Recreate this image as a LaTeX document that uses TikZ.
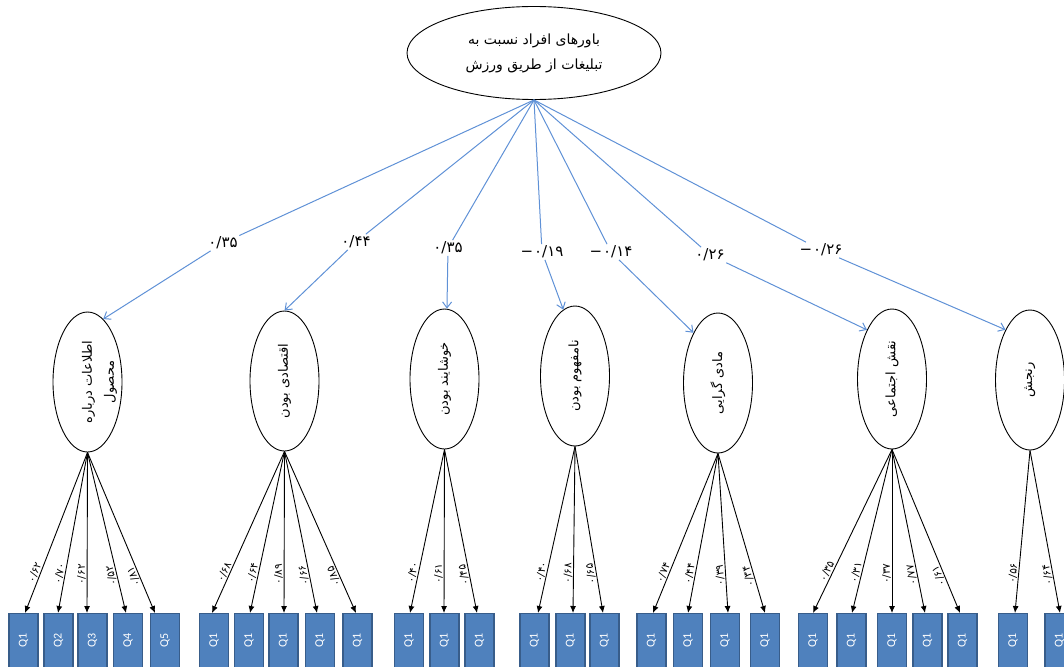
\documentclass[tikz,border=0pt]{standalone}
\usepackage{fontspec}
\usepackage{graphicx}
\setmainfont{Carlito}
\newfontfamily\fa[Script=Arabic]{DejaVu Sans}
\TeXXeTstate=1
\usetikzlibrary{arrows.meta,shapes.geometric}
\definecolor{lineblue}{RGB}{95,145,214}
\definecolor{boxfill}{RGB}{79,129,189}
\definecolor{boxedge}{RGB}{56,93,138}
\newcommand\dec[1]{۰/#1}
\newcommand\negdec[1]{\mbox{−}\hspace{1pt}\dec{#1}}
\begin{document}
\begin{tikzpicture}[x=1pt,y=-1pt,
  latent/.style={ellipse,draw,line width=0.9pt,minimum width=69pt,minimum height=140pt,inner sep=0pt,font=\fa\fontsize{13}{22}\selectfont},
  obs/.style={rectangle,draw=boxedge,fill=boxfill,line width=1.2pt,minimum width=29pt,minimum height=54pt,inner sep=0pt,anchor=north,text=white,font=\fontsize{12}{13}\selectfont},
  conn/.style={draw=lineblue,line width=1pt,-{Straight Barb[length=6pt,width=9pt]}},
  connplain/.style={draw=lineblue,line width=1pt},
  coef/.style={font=\fa\fontsize{15}{16}\selectfont,inner sep=1.5pt},
  load/.style={draw=black,line width=0.9pt,-{Latex[length=7pt,width=6pt]}},
  loadlbl/.style={font=\fa\fontsize{10.5}{11}\selectfont,inner sep=1pt}
]
\useasboundingbox (0,0) rectangle (1064,666);
\clip (0,0) rectangle (1064,666);

\node[ellipse,draw,line width=0.9pt,minimum width=254pt,minimum height=93pt,inner sep=0pt,align=center,font=\fa\fontsize{14}{25}\selectfont] (top) at (534,53) {\beginR باورهای افراد نسبت به\endR\\\beginR تبلیغات از طریق ورزش\endR};

\node[latent] (e1) at (87.5,382) {\makebox[0pt]{\hspace*{22pt}\rotatebox{90}{\begin{tabular}{@{}c@{}}\beginR اطلاعات درباره\endR\\\beginR محصول\endR\end{tabular}}}};
\node[latent] (e2) at (284.5,381) {\makebox[0pt]{\rotatebox{90}{\beginR اقتصادی بودن\endR}}};
\node[latent] (e3) at (444.5,379) {\makebox[0pt]{\rotatebox{90}{\beginR خوشایند بودن\endR}}};
\node[latent] (e4) at (575,376) {\makebox[0pt]{\rotatebox{90}{\beginR نامفهوم بودن\endR}}};
\node[latent] (e5) at (718,383) {\makebox[0pt]{\rotatebox{90}{\beginR مادی گرایی\endR}}};
\node[latent] (e6) at (892,379) {\makebox[0pt]{\rotatebox{90}{\beginR نقش اجتماعی\endR}}};
\node[latent] (e7) at (1030,380) {\makebox[0pt]{\rotatebox{90}{\beginR رنجش\endR}}};

\node[coef] (c1) at (223,243) {\dec{۳۵}};
\node[coef] (c2) at (356,242) {\dec{۴۴}};
\node[coef] (c3) at (448,248) {\dec{۳۵}};
\node[coef] (c4) at (542,252) {\negdec{۱۹}};
\node[coef] (c5) at (611,252) {\negdec{۱۴}};
\node[coef] (c6) at (710,255) {\dec{۲۶}};
\node[coef] (c7) at (821,250) {\negdec{۲۶}};

\foreach \c/\e/\a in {c1/e1/76,c2/e2/90,c3/e3/88,c4/e4/100,c5/e5/116,c6/e6/117,c7/e7/116}{
  \draw[connplain] (top.south) -- (\c);
  \draw[conn] (\c) -- (\e.\a);
}

\foreach \e/\nm/\bx/\tx/\q/\v in {
  e1/b11/23.5/25/Q1/۶۲, e1/b12/58.5/58/Q2/۷۰, e1/b13/92.5/87/Q3/۶۲, e1/b14/128/126/Q4/۵۲, e1/b15/165/155/Q5/۸۱,
  e2/b21/214/212/Q1/۶۸, e2/b22/249/250/Q1/۶۴, e2/b23/283.5/284/Q1/۸۹, e2/b24/320/317/Q1/۶۶, e2/b25/357.5/356/Q1/۸۵,
  e3/b31/409/410/Q1/۴۰, e3/b32/444.5/444/Q1/۶۱, e3/b33/479.5/477/Q1/۴۵,
  e4/b41/534.5/538/Q1/۴۰, e4/b42/570.5/573/Q1/۶۸, e4/b43/604.5/603/Q1/۶۵,
  e5/b51/651.5/653/Q1/۷۴, e5/b52/688/688/Q1/۴۴, e5/b53/725/728/Q1/۳۹, e5/b54/765/765/Q1/۳۴,
  e6/b61/813/813/Q1/۳۵, e6/b62/851.5/852/Q1/۳۱, e6/b63/892/892/Q1/۳۷, e6/b64/927.5/925/Q1/۷۷, e6/b65/962.5/960/Q1/۶۱,
  e7/b71/1013/1015/Q1/۵۶, e7/b72/1059.5/1060/Q1/۶۴}{
  \node[obs] (\nm) at (\bx,613) {\rotatebox{90}{\q}};
  \draw[load] (\e.south) -- ([xshift={\tx-\bx}]\nm.north);
  \path ([xshift={\tx-\bx}]\nm.north) -- (\e.south) node[loadlbl,pos=0.24,sloped,allow upside down,above] {\dec{\v}};
}
\end{tikzpicture}
\end{document}
